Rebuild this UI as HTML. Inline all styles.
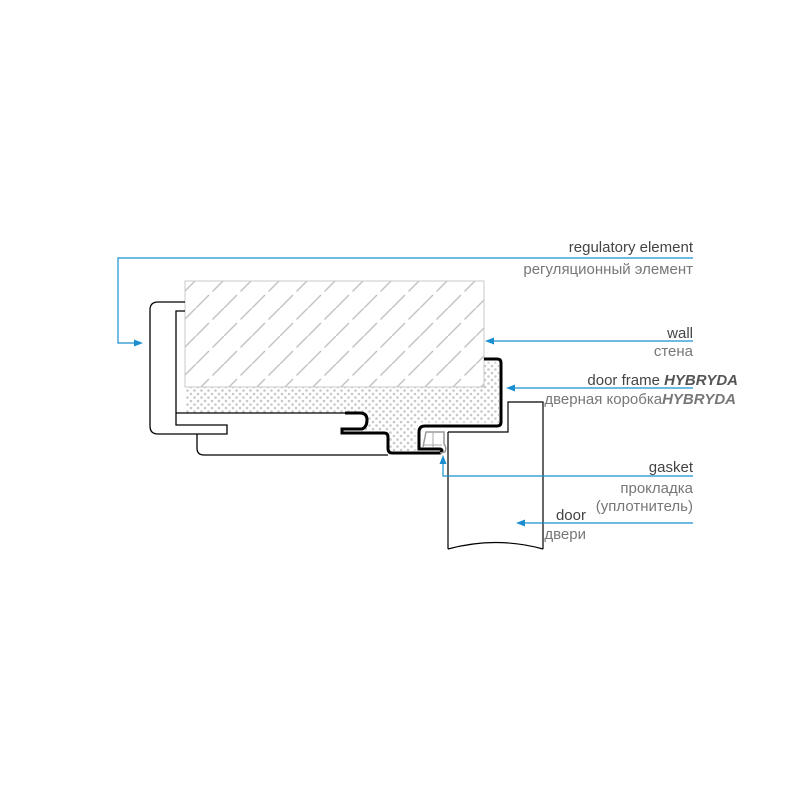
<!DOCTYPE html>
<html><head><meta charset="utf-8"><style>body{margin:0;background:#fff}svg{display:block}</style></head>
<body>
<svg width="795" height="795" viewBox="0 0 795 795" xmlns="http://www.w3.org/2000/svg">
<defs>
<pattern id="hatch" width="28" height="28" patternUnits="userSpaceOnUse">
<path d="M-4 32 L32 -4 M-18 18 L18 -18 M10 46 L46 10" stroke="#c4c4c4" stroke-width="1.5" stroke-dasharray="24 5"/>
</pattern>
<pattern id="dots" width="7" height="7" patternUnits="userSpaceOnUse">
<circle cx="2" cy="2" r="1.3" fill="#c8c8c8"/><circle cx="5.5" cy="5.5" r="1.3" fill="#c8c8c8"/>
</pattern>
</defs>
<rect x="185" y="281" width="299" height="106" fill="url(#hatch)" stroke="#c8c8c8" stroke-width="1"/>
<path d="M185 387 L484 387 L484 360 L499 360 L499 423 L418 423 L418 451 L388 451 L388 433 L345 433 L345 427 L365 427 L365 413 L185 413 Z" fill="url(#dots)"/>
<path d="M185 302 L158 302 Q150 302 150 310 L150 426 Q150 434 158 434 L197 434" fill="none" stroke="#000" stroke-width="1.3"/>
<path d="M185 311 L176 311 L176 425 L227 425 L227 434 L197 434" fill="none" stroke="#000" stroke-width="1.3"/>
<path d="M176 413 L345 413" fill="none" stroke="#000" stroke-width="1.3"/>
<path d="M197 434 L197 448 Q197 455 204 455 L388 455" fill="none" stroke="#000" stroke-width="1.3"/>
<path d="M484 359 L497 359 Q501 359 501 363 L501 422 Q501 426 497 426 L425 426 Q419 426 419 432 L419 449 L440 449 Q444 450 440 453 L392 453 Q388 453 388 448 L388 437 Q388 433 384 433 L342 433 L342 429 L362 429 Q367 427 367 420 Q367 413 360 413 L345 413" fill="none" stroke="#000" stroke-width="3"/>
<path d="M484 362 L497 362 L497 422 L425 422 Q415 422 415 432 L415 451" fill="none" stroke="#fff" stroke-width="0.8"/>
<path d="M423 447 L426 432 L444 432 L444 444 Q447 448 445 452 L440 453" fill="none" stroke="#999" stroke-width="1.5"/>
<path d="M433 432 L433 447 M423 445 L442 445" stroke="#aaa" stroke-width="1" fill="none"/>
<path d="M448 432 L448 549 M448 549 Q496 536 543 549 M543 549 L543 402 L508 402 L508 432 L448 432" fill="none" stroke="#000" stroke-width="1.2"/>
<g stroke="#1a8fd0" stroke-width="1.2" fill="none">
<path d="M693 258 L118 258 L118 343 L136 343"/>
<path d="M693 341 L492 341"/>
<path d="M693 388 L513 388"/>
<path d="M693 476 L443 476 L443 462"/>
<path d="M693 523 L524 523"/>
</g>
<g fill="#1a8fd0">
<path d="M143 343 L134 339.5 L134 346.5 Z"/>
<path d="M485 341 L494 337.5 L494 344.5 Z"/>
<path d="M506 388 L515 384.5 L515 391.5 Z"/>
<path d="M443 455 L439.5 464 L446.5 464 Z"/>
<path d="M516 523 L525 519.5 L525 526.5 Z"/>
</g>
<g font-family="'Liberation Sans Narrow','Liberation Sans',sans-serif" font-size="15" text-anchor="end">
<text x="693" y="252" fill="#444">regulatory element</text>
<text x="693" y="274" fill="#777">регуляционный элемент</text>
<text x="693" y="338" fill="#444">wall</text>
<text x="693" y="356" fill="#777">стена</text>
<text x="738" y="385" fill="#444">door frame <tspan font-weight="bold" font-style="italic" fill="#555">HYBRYDA</tspan></text>
<text x="736" y="404" fill="#777">дверная коробка<tspan font-weight="bold" font-style="italic" fill="#777">HYBRYDA</tspan></text>
<text x="693" y="472" fill="#444">gasket</text>
<text x="693" y="493" fill="#777">прокладка</text>
<text x="693" y="511" fill="#777">(уплотнитель)</text>
<text x="586" y="520" fill="#444">door</text>
<text x="586" y="539" fill="#777">двери</text>
</g>
</svg>
</body></html>
